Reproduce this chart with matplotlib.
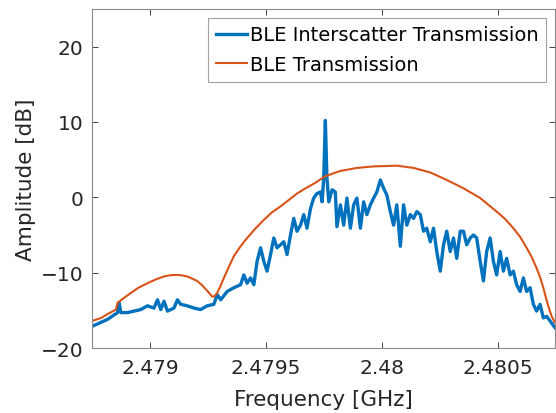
import matplotlib

matplotlib.use("Agg")

import matplotlib.pyplot as plt

plt.rcParams["font.family"] = ["DejaVu Sans"]

# BLE Interscatter Transmission (blue)
ble_inter_freq = [
    2.478752, 2.478817, 2.478860, 2.478867, 2.478874, 2.478903, 2.478931, 2.478960,
    2.478989, 2.479017, 2.479032, 2.479046, 2.479060, 2.479075, 2.479103, 2.479118,
    2.479132, 2.479160, 2.479189, 2.479218, 2.479246, 2.479275, 2.479289, 2.479304,
    2.479332, 2.479361, 2.479390, 2.479404, 2.479418, 2.479433, 2.479447, 2.479461,
    2.479476, 2.479490, 2.479504, 2.479519, 2.479533, 2.479547, 2.479562, 2.479576,
    2.479590, 2.479605, 2.479619, 2.479633, 2.479648, 2.479662, 2.479676, 2.479691,
    2.479705, 2.479719, 2.479734, 2.479741, 2.479748, 2.479755, 2.479762, 2.479770,
    2.479784, 2.479798, 2.479805, 2.479820, 2.479834, 2.479848, 2.479863, 2.479877,
    2.479891, 2.479906, 2.479920, 2.479934, 2.479949, 2.479963, 2.479977, 2.479992,
    2.480006, 2.480020, 2.480035, 2.480049, 2.480063, 2.480078, 2.480092, 2.480106,
    2.480121, 2.480135, 2.480149, 2.480164, 2.480178, 2.480192, 2.480207, 2.480221,
    2.480235, 2.480250, 2.480264, 2.480278, 2.480293, 2.480307, 2.480321, 2.480336,
    2.480350, 2.480364, 2.480379, 2.480393, 2.480407, 2.480422, 2.480436, 2.480450,
    2.480465, 2.480479, 2.480493, 2.480508, 2.480522, 2.480536, 2.480551, 2.480565,
    2.480579, 2.480594, 2.480608, 2.480622, 2.480637, 2.480651, 2.480665, 2.480680,
    2.480694, 2.480708, 2.480723, 2.480744,
]
ble_inter_db = [
    -17.1, -16.2, -15.3, -14.0, -15.3, -15.3, -15.1, -14.9,
    -14.4, -14.7, -13.6, -14.9, -13.8, -15.1, -14.7, -13.6,
    -14.2, -14.4, -14.7, -14.9, -14.4, -14.2, -12.9, -13.6,
    -12.5, -12.0, -11.6, -10.3, -11.4, -10.7, -11.6, -8.5,
    -6.7, -8.5, -9.8, -7.6, -5.4, -6.7, -6.3, -5.9,
    -7.6, -5.0, -2.8, -4.5, -3.7, -2.3, -4.1, -1.5,
    -0.1, 0.5, 0.7, -0.6, 2.5, 10.2, 2.5, -0.6,
    1.0, 0.7, -3.9, -1.0, -3.7, -0.1, -4.1, -1.0,
    -0.1, -4.1, -0.6, -2.3, -1.0, -0.1, 0.7, 2.3,
    1.2, 0.3, -1.9, -3.7, -1.0, -6.5, -1.0, -3.7,
    -2.3, -2.8, -1.9, -2.3, -4.5, -4.1, -5.9, -4.1,
    -7.2, -9.8, -6.3, -4.5, -7.2, -5.4, -8.1, -4.5,
    -4.5, -6.3, -5.4, -5.0, -5.4, -8.5, -11.1, -7.2,
    -5.4, -8.5, -10.3, -7.2, -9.8, -8.1, -10.3, -9.8,
    -11.6, -12.5, -10.7, -12.5, -12.0, -14.2, -15.1, -14.2,
    -16.0, -15.8, -16.4, -17.3,
]

# BLE Transmission (orange)
ble_freq = [
    2.478752, 2.478790, 2.478817, 2.478853, 2.478860, 2.478890, 2.478917, 2.478950,
    2.478989, 2.479025, 2.479060, 2.479085, 2.479110, 2.479135, 2.479160, 2.479182,
    2.479203, 2.479225, 2.479246, 2.479260, 2.479268, 2.479278, 2.479289, 2.479303,
    2.479318, 2.479340, 2.479361, 2.479390, 2.479418, 2.479455, 2.479490, 2.479525,
    2.479562, 2.479600, 2.479633, 2.479670, 2.479705, 2.479755, 2.479820, 2.479891,
    2.479963, 2.480063, 2.480135, 2.480207, 2.480278, 2.480350, 2.480422, 2.480493,
    2.480530, 2.480565, 2.480595, 2.480622, 2.480645, 2.480665, 2.480680, 2.480694,
    2.480705, 2.480715, 2.480730, 2.480744,
]
ble_db = [
    -16.4, -16.0, -15.5, -14.9, -14.0, -13.3, -12.7, -12.0,
    -11.4, -10.9, -10.5, -10.35, -10.3, -10.35, -10.5, -10.8,
    -11.1, -11.7, -12.4, -12.9, -13.2, -13.1, -12.7, -11.8,
    -10.7, -9.2, -7.8, -6.5, -5.4, -4.1, -3.0, -2.0,
    -1.2, -0.3, 0.5, 1.2, 1.8, 2.8, 3.5, 3.9,
    4.1, 4.2, 3.9, 3.3, 2.3, 1.2, -0.1, -1.9,
    -2.9, -4.1, -5.3, -6.7, -8.0, -9.4, -10.6, -12.0,
    -13.3, -14.4, -15.8, -16.6,
]

x_ticks = [2.479, 2.4795, 2.48, 2.4805]
x_tick_labels = ["2.479", "2.4795", "2.48", "2.4805"]
y_ticks = [-20, -10, 0, 10, 20]

fig = plt.figure(figsize=(5.56, 4.14), dpi=100)
ax = fig.add_axes([0.1655, 0.157, 0.833, 0.819])

ax.plot(ble_inter_freq, ble_inter_db, color="#0072BD", linewidth=2.4,
        label="BLE Interscatter Transmission")
ax.plot(ble_freq, ble_db, color="#D95319", linewidth=1.5,
        label="BLE Transmission")

ax.set_xlim(2.47875, 2.480745)
ax.set_ylim(-20, 25)
ax.set_xticks(x_ticks)
ax.set_xticklabels(x_tick_labels)
ax.set_yticks(y_ticks)
ax.tick_params(direction="in", top=True, right=True, length=4, width=0.6,
               labelsize=14.5, colors="#262626")
ax.tick_params(axis="x", pad=7)
ax.tick_params(axis="y", pad=6)
for sp in ax.spines.values():
    sp.set_color("#8a8a8a")
    sp.set_linewidth(0.8)

ax.set_xlabel("Frequency [GHz]", fontsize=15.5, color="#262626", labelpad=9)
ax.set_ylabel("Amplitude [dB]", fontsize=15.5, color="#262626", labelpad=4)

leg = ax.legend(loc="upper right", fontsize=14, frameon=True, fancybox=False,
                handlelength=1.6, handletextpad=0.15, borderaxespad=0.45,
                borderpad=0.4, labelspacing=0.55)
leg.get_frame().set_edgecolor("#8a8a8a")
leg.get_frame().set_linewidth(0.8)

plt.savefig("out.png", dpi=100)
